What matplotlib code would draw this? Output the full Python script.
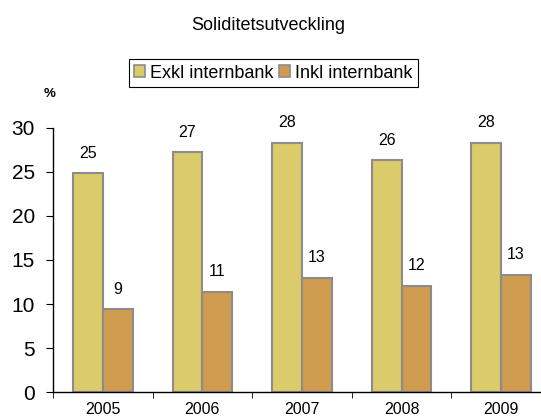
import matplotlib
matplotlib.use("Agg")
import matplotlib.pyplot as plt
import numpy as np
from matplotlib.patches import Patch

plt.rcParams["font.family"] = ["Liberation Sans", "DejaVu Sans"]

years = ["2005", "2006", "2007", "2008", "2009"]
exkl = [24.8, 27.2, 28.3, 26.3, 28.3]
inkl = [9.4, 11.4, 13.0, 12.1, 13.3]
exkl_labels = ["25", "27", "28", "26", "28"]
inkl_labels = ["9", "11", "13", "12", "13"]

COL_EXKL = "#DCCB6A"
COL_INKL = "#CF9B4E"
EDGE = "#8C8C8C"

fig = plt.figure(figsize=(5.41, 4.19), dpi=100)
ax = fig.add_axes([0.098, 0.0637, 0.902, 0.6318])

x = np.arange(len(years))
w = 0.3
b1 = ax.bar(x - w / 2, exkl, w, color=COL_EXKL, edgecolor=EDGE, linewidth=1.5)
b2 = ax.bar(x + w / 2, inkl, w, color=COL_INKL, edgecolor=EDGE, linewidth=1.5)

for bars, labels in [(b1, exkl_labels), (b2, inkl_labels)]:
    for bar, lab in zip(bars, labels):
        ax.annotate(lab, xy=(bar.get_x() + bar.get_width() / 2, bar.get_height()),
                    xytext=(0, 14.5), textcoords="offset points",
                    ha="center", va="center", fontsize=11.5, annotation_clip=False)

ax.set_xlim(-0.5, 4.4)
ax.set_ylim(0, 30)
ax.set_yticks(range(0, 31, 5))
ax.tick_params(axis="y", labelsize=15, length=5, pad=8, direction="out")

ax.set_xticks(x)
ax.set_xticklabels(years)
ax.set_xticks(np.arange(-0.5, 4, 1), minor=True)
ax.tick_params(axis="x", which="major", length=0, labelsize=11.5, pad=7)
ax.tick_params(axis="x", which="minor", length=4, direction="out")

for side in ["top", "right"]:
    ax.spines[side].set_visible(False)
ax.spines["left"].set_linewidth(1.0)
ax.spines["bottom"].set_linewidth(1.0)

fig.text(0.495, 1 - 26 / 419, "Soliditetsutveckling", ha="center", va="center", fontsize=13)
fig.text(50 / 541, 1 - 94 / 419, "%", ha="center", va="center", fontsize=9.5, fontweight="bold")

handles = [Patch(facecolor=COL_EXKL, edgecolor=EDGE, linewidth=1.2),
           Patch(facecolor=COL_INKL, edgecolor=EDGE, linewidth=1.2)]
leg = fig.legend(handles, ["Exkl internbank", "Inkl internbank"], loc="center",
                 bbox_to_anchor=(273.5 / 541, 1 - 73 / 419), ncol=2, fontsize=13,
                 frameon=True, fancybox=False, edgecolor="black", framealpha=1,
                 handlelength=0.6, handleheight=0.6, handletextpad=0.3,
                 columnspacing=0.3, borderpad=0.3, borderaxespad=0)
leg.get_frame().set_linewidth(0.8)

fig.savefig("out.png", dpi=100)
